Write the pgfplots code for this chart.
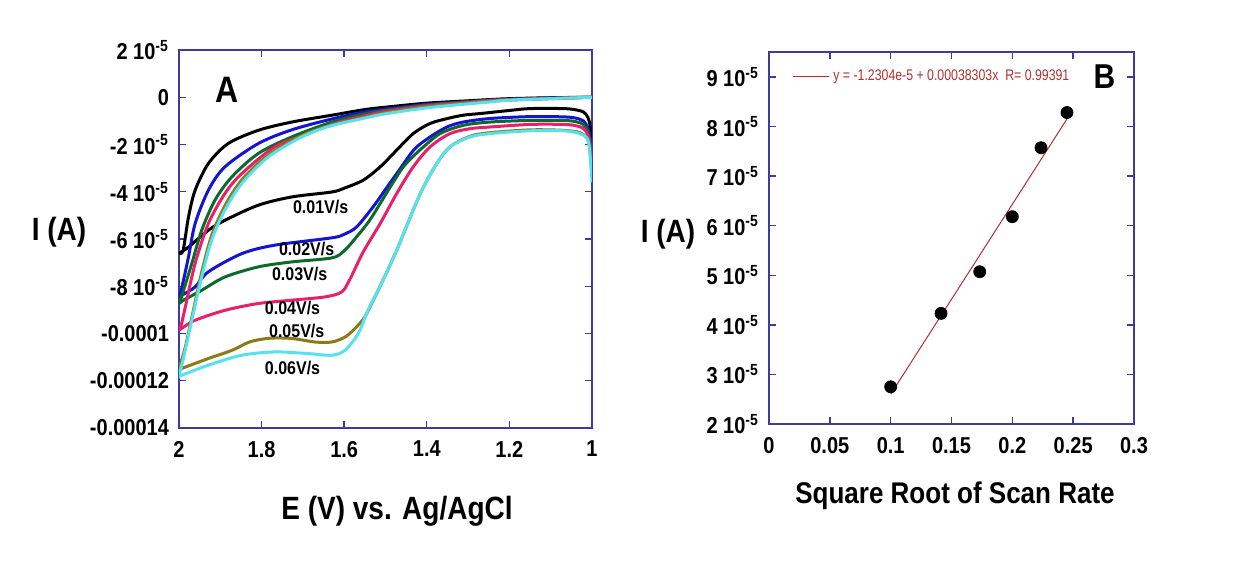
\documentclass[border=0pt]{standalone}
\usepackage{pgfplots}
\pgfplotsset{compat=1.18}
\usepackage{fontspec}
\setmainfont{Liberation Sans}
\definecolor{axblue}{HTML}{3C3CA0}
\definecolor{cvblue}{HTML}{1414D2}
\definecolor{cvgreen}{HTML}{0B6A2C}
\definecolor{cvpink}{HTML}{E8206A}
\definecolor{cvolive}{HTML}{8A7A1A}
\definecolor{cvcyan}{HTML}{55E2EE}
\definecolor{fitred}{HTML}{B03030}
\newcommand{\vs}[1]{\scalebox{1}[1.15]{#1}}
\newcommand{\sci}[2]{\vs{#1 10\textsuperscript{#2}}}
\pgfplotsset{
  common/.style={
    scale only axis,
    axis line style={axblue, line width=0.8pt},
    tick style={axblue, line width=0.7pt},
    major tick length=3.5pt,
    tick align=inside,
    ticklabel style={font=\bfseries\fontsize{10}{12}\selectfont},
    xticklabel style={yshift=-3pt},
    yticklabel style={xshift=-1.5pt},
    scaled ticks=false,
    clip=true,
  },
  cv/.style={#1, line width=1.5pt, smooth, tension=0.5},
}
\begin{document}
\begin{tikzpicture}
\path[use as bounding box] (0pt,0pt) rectangle (621pt,-286pt);
% ---------------- Panel A ----------------
\begin{axis}[common,
  at={(89.5pt,-214pt)}, anchor=south west,
  width=206.5pt, height=189pt,
  xmin=1, xmax=2, x dir=reverse,
  ymin=-14e-5, ymax=2e-5,
  xtick={1,1.2,1.4,1.6,1.8,2},
  xticklabels={\vs{1},\vs{1.2},\vs{1.4},\vs{1.6},\vs{1.8},\vs{2}},
  ytick={-14e-5,-12e-5,-10e-5,-8e-5,-6e-5,-4e-5,-2e-5,0,2e-5},
  yticklabels={\vs{-0.00014},\vs{-0.00012},\vs{-0.0001},\sci{-8}{-5},\sci{-6}{-5},\sci{-4}{-5},\sci{-2}{-5},\vs{0},\sci{2}{-5}},
]
% 0.01 V/s
\addplot[cv=black] coordinates {
(1.0,0) (1.1,-0.02e-5) (1.2,-0.06e-5) (1.25,-0.1e-5) (1.3,-0.15e-5) (1.4,-0.25e-5) (1.5,-0.42e-5) (1.55,-0.52e-5) (1.63,-0.76e-5) (1.727,-1.05e-5) (1.808,-1.40e-5) (1.881,-1.96e-5) (1.929,-2.81e-5) (1.961,-3.94e-5) (1.977,-5.07e-5) (1.99,-6.48e-5) (2.0,-6.6e-5)
(1.99,-6.5e-5) (1.977,-6.34e-5) (1.929,-5.63e-5) (1.889,-5.21e-5) (1.808,-4.57e-5) (1.727,-4.22e-5) (1.63,-4.01e-5) (1.6,-3.85e-5) (1.554,-3.51e-5) (1.513,-2.95e-5) (1.473,-2.24e-5) (1.433,-1.54e-5) (1.392,-1.11e-5) (1.35,-0.9e-5) (1.312,-0.76e-5) (1.271,-0.69e-5) (1.2,-0.56e-5) (1.15,-0.48e-5) (1.069,-0.48e-5) (1.04,-0.53e-5) (1.021,-0.62e-5) (1.01,-0.85e-5) (1.004,-1.3e-5) (1.0,-2.5e-5)
};
% 0.02 V/s
\addplot[cv=cvblue] coordinates {
(1.0,0) (1.1,-0.03e-5) (1.2,-0.08e-5) (1.25,-0.12e-5) (1.3,-0.18e-5) (1.4,-0.3e-5) (1.5,-0.5e-5) (1.55,-0.62e-5) (1.63,-0.92e-5) (1.727,-1.38e-5) (1.808,-1.96e-5) (1.889,-2.95e-5) (1.929,-3.94e-5) (1.961,-5.35e-5) (1.977,-6.76e-5) (1.995,-8.2e-5) (2.0,-8.45e-5)
(1.99,-8.35e-5) (1.961,-8.03e-5) (1.929,-7.39e-5) (1.848,-6.62e-5) (1.768,-6.26e-5) (1.63,-5.95e-5) (1.6,-5.8e-5) (1.57,-5.49e-5) (1.53,-4.64e-5) (1.5,-3.9e-5) (1.467,-3.09e-5) (1.43,-2.2e-5) (1.392,-1.68e-5) (1.35,-1.25e-5) (1.312,-1.05e-5) (1.247,-0.9e-5) (1.15,-0.82e-5) (1.07,-0.83e-5) (1.04,-0.88e-5) (1.021,-1.0e-5) (1.01,-1.3e-5) (1.004,-1.8e-5) (1.0,-2.8e-5)
};
% 0.03 V/s
\addplot[cv=cvgreen] coordinates {
(1.0,0) (1.1,-0.04e-5) (1.2,-0.09e-5) (1.25,-0.13e-5) (1.3,-0.2e-5) (1.4,-0.33e-5) (1.5,-0.55e-5) (1.55,-0.7e-5) (1.63,-1.05e-5) (1.727,-1.68e-5) (1.808,-2.38e-5) (1.872,-3.37e-5) (1.913,-4.36e-5) (1.945,-5.63e-5) (1.969,-7.04e-5) (1.993,-8.4e-5) (2.0,-8.73e-5)
(1.99,-8.6e-5) (1.945,-8.17e-5) (1.889,-7.61e-5) (1.808,-7.18e-5) (1.727,-6.97e-5) (1.63,-6.8e-5) (1.6,-6.5e-5) (1.57,-5.91e-5) (1.54,-5.25e-5) (1.513,-4.5e-5) (1.485,-3.7e-5) (1.457,-2.95e-5) (1.43,-2.45e-5) (1.408,-2.1e-5) (1.368,-1.54e-5) (1.312,-1.19e-5) (1.247,-1.05e-5) (1.15,-0.98e-5) (1.07,-0.98e-5) (1.04,-1.03e-5) (1.021,-1.15e-5) (1.01,-1.45e-5) (1.004,-2.0e-5) (1.0,-3.0e-5)
};
% 0.04 V/s
\addplot[cv=cvpink] coordinates {
(1.0,0) (1.1,-0.05e-5) (1.2,-0.1e-5) (1.25,-0.14e-5) (1.3,-0.22e-5) (1.4,-0.36e-5) (1.5,-0.6e-5) (1.55,-0.78e-5) (1.63,-1.15e-5) (1.687,-1.54e-5) (1.768,-2.10e-5) (1.848,-3.23e-5) (1.889,-4.08e-5) (1.929,-5.35e-5) (1.961,-7.04e-5) (1.985,-8.9e-5) (1.994,-9.6e-5) (2.0,-9.85e-5)
(1.994,-9.79e-5) (1.961,-9.44e-5) (1.889,-9.02e-5) (1.808,-8.73e-5) (1.727,-8.59e-5) (1.646,-8.45e-5) (1.606,-8.24e-5) (1.586,-7.7e-5) (1.554,-6.55e-5) (1.513,-5.35e-5) (1.473,-4.08e-5) (1.433,-2.95e-5) (1.392,-2.1e-5) (1.344,-1.54e-5) (1.295,-1.33e-5) (1.247,-1.26e-5) (1.15,-1.15e-5) (1.07,-1.15e-5) (1.04,-1.2e-5) (1.021,-1.32e-5) (1.01,-1.6e-5) (1.004,-2.2e-5) (1.0,-3.2e-5)
};
% 0.05 V/s
\addplot[cv=cvolive] coordinates {
(1.0,0) (1.1,-0.06e-5) (1.2,-0.12e-5) (1.25,-0.17e-5) (1.3,-0.24e-5) (1.4,-0.4e-5) (1.5,-0.66e-5) (1.55,-0.85e-5) (1.63,-1.17e-5) (1.703,-1.62e-5) (1.784,-2.45e-5) (1.848,-3.5e-5) (1.889,-4.6e-5) (1.921,-5.85e-5) (1.945,-7.4e-5) (1.965,-9.0e-5) (1.985,-10.6e-5) (2.0,-11.5e-5)
(1.994,-11.48e-5) (1.929,-11.06e-5) (1.87,-10.7e-5) (1.828,-10.35e-5) (1.78,-10.2e-5) (1.727,-10.21e-5) (1.671,-10.36e-5) (1.63,-10.36e-5) (1.598,-10.15e-5) (1.574,-9.79e-5) (1.55,-9.3e-5) (1.53,-8.6e-5) (1.513,-8.0e-5) (1.473,-6.48e-5) (1.433,-4.78e-5) (1.408,-3.8e-5) (1.376,-2.81e-5) (1.344,-2.1e-5) (1.295,-1.65e-5) (1.247,-1.5e-5) (1.15,-1.38e-5) (1.07,-1.4e-5) (1.029,-1.5e-5) (1.01,-1.8e-5) (1.004,-2.4e-5) (1.0,-3.4e-5)
};
% 0.06 V/s
\addplot[cv=cvcyan] coordinates {
(1.0,0) (1.1,-0.06e-5) (1.2,-0.12e-5) (1.247,-0.2e-5) (1.3,-0.28e-5) (1.4,-0.45e-5) (1.5,-0.7e-5) (1.55,-0.88e-5) (1.634,-1.22e-5) (1.703,-1.68e-5) (1.784,-2.53e-5) (1.848,-3.65e-5) (1.889,-4.78e-5) (1.921,-6.05e-5) (1.945,-7.61e-5) (1.969,-9.44e-5) (1.981,-10.4e-5) (1.99,-11.1e-5) (2.0,-11.8e-5)
(1.994,-11.77e-5) (1.929,-11.34e-5) (1.848,-10.92e-5) (1.768,-10.78e-5) (1.687,-10.85e-5) (1.63,-10.92e-5) (1.598,-10.71e-5) (1.566,-10.0e-5) (1.542,-9.0e-5) (1.513,-8.0e-5) (1.473,-6.48e-5) (1.433,-4.78e-5) (1.408,-3.8e-5) (1.376,-2.81e-5) (1.344,-2.1e-5) (1.295,-1.68e-5) (1.247,-1.54e-5) (1.15,-1.42e-5) (1.07,-1.42e-5) (1.029,-1.54e-5) (1.01,-1.8e-5) (1.004,-2.6e-5) (1.0,-3.6e-5)
};
\begin{scope}[every node/.style={font=\bfseries\fontsize{8}{9}\selectfont, inner sep=0pt}]
\node at (axis cs:1.657,-4.64e-5) {\vs{0.01V/s}};
\node at (axis cs:1.691,-6.41e-5) {\vs{0.02V/s}};
\node at (axis cs:1.708,-7.47e-5) {\vs{0.03V/s}};
\node at (axis cs:1.725,-8.93e-5) {\vs{0.04V/s}};
\node at (axis cs:1.715,-9.90e-5) {\vs{0.05V/s}};
\node at (axis cs:1.725,-11.45e-5) {\vs{0.06V/s}};
\end{scope}
\node[font=\bfseries\fontsize{16}{17}\selectfont, inner sep=0pt] at (axis cs:1.884,0.3e-5) {\vs{A}};
\end{axis}
% ---------------- Panel B ----------------
\begin{axis}[common,
  at={(384.5pt,-212pt)}, anchor=south west,
  width=182.5pt, height=186pt,
  xmin=0, xmax=0.3,
  ymin=2e-5, ymax=9.5e-5,
  xtick={0,0.05,0.1,0.15,0.2,0.25,0.3},
  xticklabels={\vs{0},\vs{0.05},\vs{0.1},\vs{0.15},\vs{0.2},\vs{0.25},\vs{0.3}},
  ytick={2e-5,3e-5,4e-5,5e-5,6e-5,7e-5,8e-5,9e-5},
  yticklabels={\sci{2}{-5},\sci{3}{-5},\sci{4}{-5},\sci{5}{-5},\sci{6}{-5},\sci{7}{-5},\sci{8}{-5},\sci{9}{-5}},
  legend style={at={(0.063,0.933)}, anchor=west, draw=none, fill=none,
    font=\fontsize{7}{8}\selectfont, text=fitred, inner sep=0pt},
  legend image code/.code={\draw[#1] (0pt,0pt) -- (18pt,0pt);},
]
\addplot[fitred, line width=0.5pt] coordinates {(0.1,2.6e-5) (0.2449,8.15e-5)};
\addlegendentry{\scalebox{0.88}[1.1]{y = -1.2304e-5 + 0.00038303x\ \ R= 0.99391}}
\addplot[only marks, mark=*, mark size=3pt, black, forget plot] coordinates {
(0.1,2.75e-5) (0.1414,4.23e-5) (0.1732,5.07e-5) (0.2,6.18e-5) (0.2236,7.57e-5) (0.2449,8.28e-5)
};
\node[font=\bfseries\fontsize{15}{16}\selectfont, inner sep=0pt] at (axis cs:0.2758,9.0e-5) {\vs{B}};
\end{axis}
% ---------------- axis titles ----------------
\node[font=\bfseries\fontsize{14}{16}\selectfont] at (29.5pt,-116pt) {\vs{I (A)}};
\node[font=\bfseries\fontsize{14}{16}\selectfont] at (198.5pt,-255.5pt) {\vs{E (V) vs. Ag/AgCl}};
\node[font=\bfseries\fontsize{14}{16}\selectfont] at (334pt,-117pt) {\vs{I (A)}};
\node[font=\bfseries\fontsize{13}{15}\selectfont] at (477.5pt,-248pt) {\vs{Square Root of Scan Rate}};
\end{tikzpicture}
\end{document}
